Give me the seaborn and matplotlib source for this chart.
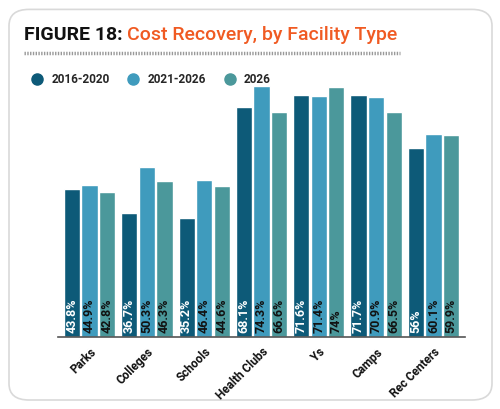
import matplotlib
matplotlib.use("Agg")
import matplotlib.pyplot as plt
from matplotlib.patches import FancyBboxPatch
from matplotlib.lines import Line2D
import seaborn as sns
import pandas as pd

categories = ["Parks", "Colleges", "Schools", "Health Clubs", "Ys", "Camps", "Rec Centers"]
series_names = ["2016-2020", "2021-2026", "2026"]
v2016_2020 = [43.8, 36.7, 35.2, 68.1, 71.6, 71.7, 56]
v2021_2026 = [44.9, 50.3, 46.4, 74.3, 71.4, 70.9, 60.1]
v2026 = [42.8, 46.3, 44.6, 66.6, 74, 66.5, 59.9]
label_texts = [
    ["43.8%", "36.7%", "35.2%", "68.1%", "71.6%", "71.7%", "56%"],
    ["44.9%", "50.3%", "46.4%", "74.3%", "71.4%", "70.9%", "60.1%"],
    ["42.8%", "46.3%", "44.6%", "66.6%", "74%", "66.5%", "59.9%"],
]
colors = ["#0d5a78", "#3f9bbd", "#4b989b"]
text_colors = ["white", "#111111", "#111111"]

rows = []
for s, vals in zip(series_names, [v2016_2020, v2021_2026, v2026]):
    for c, v in zip(categories, vals):
        rows.append({"Facility": c, "Period": s, "Value": v})
df = pd.DataFrame(rows)

sns.set_theme(style="white")
plt.rcParams["font.family"] = ["Roboto", "DejaVu Sans"]

fig = plt.figure(figsize=(5.0, 4.09), dpi=100)
fig.patch.set_facecolor("white")

# rounded frame
frame = FancyBboxPatch((0.018, 0.022), 0.966, 0.955,
                       boxstyle="round,pad=0,rounding_size=0.04",
                       transform=fig.transFigure, facecolor="none",
                       edgecolor="#d9d9d9", linewidth=1.2, zorder=-1)
fig.patches.append(frame)

ax = fig.add_axes([0.116, 0.176, 0.814, 0.628])
sns.barplot(data=df, x="Facility", y="Value", hue="Period",
            order=categories, hue_order=series_names,
            palette=colors, width=0.92, gap=0.08, ax=ax, legend=False,
            saturation=1)
ax.set_ylim(0, 76)
ax.set_xlim(-0.55, 6.55)
ax.set_facecolor("none")
for sp in ["top", "right", "left"]:
    ax.spines[sp].set_visible(False)
ax.spines["bottom"].set_color("#555555")
ax.spines["bottom"].set_linewidth(1.2)
ax.set_yticks([])
ax.set_xlabel("")
ax.set_ylabel("")
ax.tick_params(axis="x", length=0, pad=6)
ax.set_xticks(range(len(categories)))
ax.set_xticklabels(categories, rotation=45, ha="right", rotation_mode="anchor",
                   fontsize=8.5, fontweight="bold", color="#111111")

for i, cont in enumerate(ax.containers):
    for bar, txt in zip(cont, label_texts[i]):
        x = bar.get_x() + bar.get_width() / 2
        ax.text(x, 1.2, txt, rotation=90, ha="center", va="bottom",
                fontsize=9, fontweight="bold", color=text_colors[i])

# title
t1 = fig.text(0.048, 0.915, "FIGURE 18:", fontsize=14, fontweight="bold",
              color="#111111", va="center", ha="left")
fig.canvas.draw()
bb = t1.get_window_extent()
x_next = bb.x1 / fig.bbox.width + 0.008
fig.text(x_next, 0.915, "Cost Recovery, by Facility Type", fontsize=14,
         color="#f05a22", va="center", ha="left", fontweight="medium")

# dotted rule
fig.add_artist(Line2D([0.048, 0.80], [0.87, 0.87], transform=fig.transFigure,
                      color="#999999", linewidth=2.5, linestyle=(0, (0.4, 0.4))))

# legend
handles = [Line2D([0], [0], marker="o", color="none", markerfacecolor=c,
                  markeredgecolor=c, markersize=8) for c in colors]
fig.legend(handles, series_names, loc="center left", bbox_to_anchor=(0.03, 0.805),
           ncol=3, frameon=False, handletextpad=0.2, columnspacing=1.0,
           prop={"weight": "bold", "size": 8.5})

fig.savefig("out.png", dpi=100)
